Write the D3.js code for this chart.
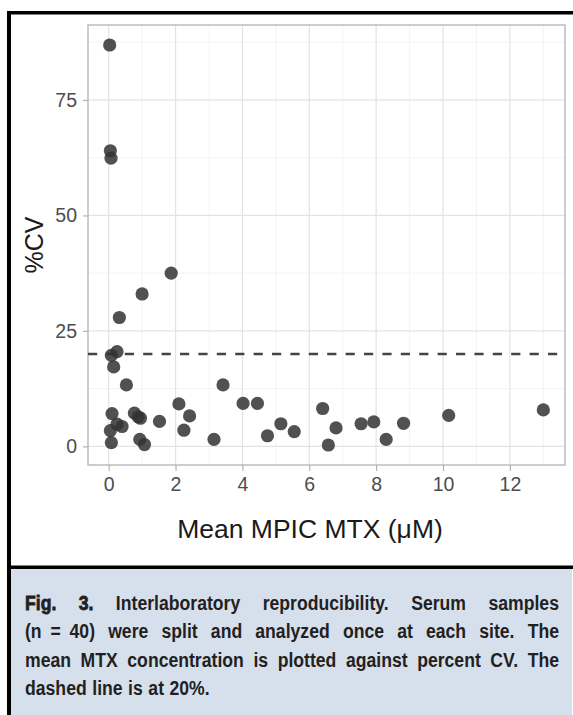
<!DOCTYPE html>
<html>
<head>
<meta charset="utf-8">
<script src="https://cdn.jsdelivr.net/npm/d3@7.9.0/dist/d3.min.js"></script>
<style>
  html, body { margin: 0; padding: 0; background: #fff; }
  svg { display: block; }
</style>
</head>
<body>
<script>
// mean MPIC MTX (uM) and %CV per serum sample
const meanMtx = [0.03, 0.05, 0.07, 1.87, 1.00, 0.32, 0.25, 0.08, 0.15, 0.53,
                 0.10, 0.25, 0.40, 0.05, 0.08, 0.77, 0.95, 0.88, 0.93, 1.07,
                 1.52, 2.10, 2.42, 2.25, 3.15, 3.42, 4.02, 4.45, 4.75, 5.15,
                 5.55, 6.40, 6.57, 6.80, 7.55, 7.93, 8.30, 8.82, 10.17, 13.00]
const pctCV   = [86.9, 64.0, 62.4, 37.5, 33.0, 27.9, 20.5, 19.7, 17.2, 13.3,
                 7.1, 4.8, 4.3, 3.4, 0.8, 7.2, 6.1, 6.4, 1.5, 0.4,
                 5.4, 9.2, 6.6, 3.5, 1.5, 13.3, 9.3, 9.3, 2.3, 4.9,
                 3.2, 8.2, 0.3, 4.0, 4.9, 5.3, 1.5, 5.0, 6.7, 7.9]
const xTicks = [0, 2, 4, 6, 8, 10, 12]
const yTicks = [0, 25, 50, 75]
const cutoff = 20
const xLabel = "Mean MPIC MTX (\u03bcM)"
const yLabel = "%CV"
const captionLines = [
  ["Fig.", "3.", "Interlaboratory", "reproducibility.", "Serum", "samples"],
  ["(n\u2002=\u200240)", "were", "split", "and", "analyzed", "once", "at", "each", "site.", "The"],
  ["mean", "MTX", "concentration", "is", "plotted", "against", "percent", "CV.", "The"],
  ["dashed", "line", "is", "at", "20%."]
]

const width = 573, height = 715
const panel = {left: 88, right: 565, top: 25, bottom: 465}

const data = meanMtx.map((x, i) => ({x, y: pctCV[i]}))

// ggplot-style 5% expansion
const xr = d3.extent(meanMtx), yr = d3.extent(pctCV)
const xPad = (xr[1] - xr[0]) * 0.05, yPad = (yr[1] - yr[0]) * 0.05
const xScale = d3.scaleLinear([xr[0] - xPad, xr[1] + xPad], [panel.left, panel.right])
const yScale = d3.scaleLinear([yr[0] - yPad, yr[1] + yPad], [panel.bottom, panel.top])

const svg = d3.select("body").append("svg")
    .attr("width", width)
    .attr("height", height)
    .attr("viewBox", [0, 0, width, height])

// caption box
svg.append("rect")
    .attr("x", 10).attr("y", 568)
    .attr("width", 562).attr("height", height - 568)
    .attr("fill", "#d6dfec")

// frame
svg.append("g")
    .attr("fill", "#000")
    .call(g => g.append("rect").attr("x", 7).attr("y", 11).attr("width", 4).attr("height", height - 11))
    .call(g => g.append("rect").attr("x", 7).attr("y", 11).attr("width", width - 7).attr("height", 3.5))
    .call(g => g.append("rect").attr("x", 7).attr("y", 565.5).attr("width", width - 7).attr("height", 3.5))

// grid
const minorX = d3.range(1, 14, 2), minorY = [12.5, 37.5, 62.5, 87.5]
const grid = svg.append("g")
grid.selectAll("line.mx").data(minorX).join("line")
    .attr("x1", d => xScale(d)).attr("x2", d => xScale(d))
    .attr("y1", panel.top).attr("y2", panel.bottom)
    .attr("stroke", "#f0f0f0").attr("stroke-width", 0.8)
grid.selectAll("line.my").data(minorY).join("line")
    .attr("y1", d => yScale(d)).attr("y2", d => yScale(d))
    .attr("x1", panel.left).attr("x2", panel.right)
    .attr("stroke", "#f0f0f0").attr("stroke-width", 0.8)
grid.selectAll("line.gx").data(xTicks).join("line")
    .attr("x1", d => xScale(d)).attr("x2", d => xScale(d))
    .attr("y1", panel.top).attr("y2", panel.bottom)
    .attr("stroke", "#e3e3e3").attr("stroke-width", 1.2)
grid.selectAll("line.gy").data(yTicks).join("line")
    .attr("y1", d => yScale(d)).attr("y2", d => yScale(d))
    .attr("x1", panel.left).attr("x2", panel.right)
    .attr("stroke", "#e3e3e3").attr("stroke-width", 1.2)

// axes
const tickFont = "'Liberation Sans', Arial, sans-serif"
svg.append("g")
    .attr("transform", `translate(0,${panel.bottom})`)
    .call(d3.axisBottom(xScale).tickValues(xTicks).tickSize(6).tickPadding(6))
    .call(g => g.select(".domain").remove())
    .call(g => g.selectAll(".tick line").attr("stroke", "#b3b3b3").attr("stroke-width", 1.2))
    .call(g => g.selectAll(".tick text")
        .attr("fill", "#4d4d4d")
        .attr("font-family", tickFont)
        .attr("font-size", 19.5))

svg.append("g")
    .attr("transform", `translate(${panel.left},0)`)
    .call(d3.axisLeft(yScale).tickValues(yTicks).tickSize(5).tickPadding(6))
    .call(g => g.select(".domain").remove())
    .call(g => g.selectAll(".tick line").attr("stroke", "#b3b3b3").attr("stroke-width", 1.2))
    .call(g => g.selectAll(".tick text")
        .attr("fill", "#4d4d4d")
        .attr("font-family", tickFont)
        .attr("font-size", 19.5))

// panel border
svg.append("rect")
    .attr("x", panel.left).attr("y", panel.top)
    .attr("width", panel.right - panel.left).attr("height", panel.bottom - panel.top)
    .attr("fill", "none").attr("stroke", "#b3b3b3").attr("stroke-width", 1.3)

// 20% line
svg.append("line")
    .attr("x1", panel.left).attr("x2", panel.right)
    .attr("y1", yScale(cutoff)).attr("y2", yScale(cutoff))
    .attr("stroke", "#444").attr("stroke-width", 2.4)
    .attr("stroke-dasharray", "9.2,9.2")

// points
svg.append("g")
  .selectAll("circle")
  .data(data)
  .join("circle")
    .attr("cx", d => xScale(d.x))
    .attr("cy", d => yScale(d.y))
    .attr("r", 6.6)
    .attr("fill", "#333")
    .attr("fill-opacity", 0.85)

// axis titles
svg.append("text")
    .attr("x", 310).attr("y", 538)
    .attr("text-anchor", "middle")
    .attr("font-family", tickFont)
    .attr("font-size", 26.5)
    .attr("fill", "#1a1a1a")
    .text(xLabel)

svg.append("text")
    .attr("transform", `translate(43,${(panel.top + panel.bottom) / 2}) rotate(-90)`)
    .attr("text-anchor", "middle")
    .attr("font-family", tickFont)
    .attr("font-size", 25)
    .attr("fill", "#1a1a1a")
    .text(yLabel)

// caption, condensed by a horizontal squeeze and justified by hand
const capLeft = 25, capRight = 559, lineStep = 28.4, firstBase = 610, squeeze = 0.86
const cap = svg.append("g")
    .attr("font-family", "'Liberation Sans', Arial, sans-serif")
    .attr("font-weight", "bold")
    .attr("font-size", 20.5)
    .attr("fill", "#231f20")

captionLines.forEach((words, li) => {
  const y = firstBase + li * lineStep
  const nodes = words.map((w, wi) => {
    const t = cap.append("text").text(w)
    if (li === 0 && wi < 2) t.attr("stroke", "#231f20").attr("stroke-width", 0.8)
    return t
  })
  const widths = nodes.map(t => t.node().getComputedTextLength() * squeeze)
  const total = d3.sum(widths)
  const last = li === captionLines.length - 1
  const gap = last ? 5.5 : (capRight - capLeft - total) / (words.length - 1)
  let x = capLeft
  nodes.forEach((t, i) => {
    t.attr("transform", `translate(${x},${y}) scale(${squeeze},1)`)
    x += widths[i] + gap
  })
})
</script>
</body>
</html>
